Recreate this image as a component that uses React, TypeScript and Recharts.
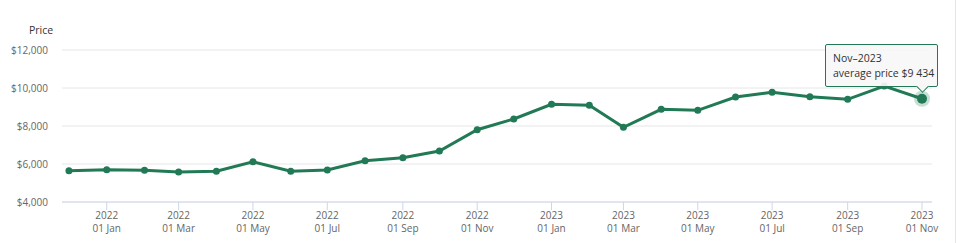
import React from 'react'
import { LineChart, Line, XAxis, YAxis, CartesianGrid, Tooltip } from 'recharts'

// monthly average price, Dec 2021 .. Nov 2023
const months = [
  '2021-12', '2022-01', '2022-02', '2022-03', '2022-04', '2022-05',
  '2022-06', '2022-07', '2022-08', '2022-09', '2022-10', '2022-11',
  '2022-12', '2023-01', '2023-02', '2023-03', '2023-04', '2023-05',
  '2023-06', '2023-07', '2023-08', '2023-09', '2023-10', '2023-11',
]
const prices = [
  5650, 5700, 5670, 5580, 5615, 6120,
  5615, 5685, 6175, 6330, 6685, 7805,
  8370, 9140, 9090, 7930, 8880, 8825,
  9525, 9775, 9540, 9405, 10105, 9434,
]
const xTicks = [
  '2022-01', '2022-03', '2022-05', '2022-07', '2022-09', '2022-11',
  '2023-01', '2023-03', '2023-05', '2023-07', '2023-09', '2023-11',
]
const yTicks = [4000, 6000, 8000, 10000, 12000]
const monthNames = ['Jan', 'Feb', 'Mar', 'Apr', 'May', 'Jun', 'Jul', 'Aug', 'Sep', 'Oct', 'Nov', 'Dec']

const toTime = (m: string) => {
  const [y, mo] = m.split('-').map(Number)
  return Date.UTC(y, mo - 1, 1)
}
const DAY = 86400000

const data = months.map((m, i) => ({ t: toTime(m), price: prices[i], label: m }))
const domain = [toTime(months[0]) - 5.7 * DAY, toTime(months[months.length - 1]) + 8.2 * DAY]

const GREEN = '#217a55'
const FONT = '"Open Sans", "DejaVu Sans", sans-serif'

const XTick = (props: any) => {
  const { x, y, payload } = props
  const d = new Date(payload.value)
  return (
    <g transform={`translate(${x},${y})`}>
      <text x={0} y={7} textAnchor="middle" fill="#666" fontSize={10} fontFamily={FONT}>
        {d.getUTCFullYear()}
      </text>
      <text x={0} y={19.5} textAnchor="middle" fill="#666" fontSize={10} fontFamily={FONT}>
        01 {monthNames[d.getUTCMonth()]}
      </text>
    </g>
  )
}

const fmtPrice = (v: number) => '$' + v.toLocaleString('en-US')

const TipBox = (props: any) => {
  const { active, payload } = props
  if (!active || !payload || !payload.length) return null
  const p = payload[0].payload
  const d = new Date(p.t)
  const val = String(p.price).replace(/\B(?=(\d{3})+(?!\d))/g, ' ')
  return (
    <div
      style={{
        position: 'relative',
        width: 113,
        height: 43,
        boxSizing: 'border-box',
        background: 'rgba(247,247,247,0.92)',
        border: `1px solid ${GREEN}`,
        borderRadius: 2,
        padding: '6px 7px',
        fontFamily: FONT,
        fontSize: 10.5,
        color: '#333',
        lineHeight: '15px',
        whiteSpace: 'nowrap',
      }}
    >
      <div>{monthNames[d.getUTCMonth()]}–{d.getUTCFullYear()}</div>
      <div>average price ${val}</div>
      <div
        style={{
          position: 'absolute',
          left: 92,
          bottom: -5,
          width: 8,
          height: 8,
          background: 'rgba(247,247,247,1)',
          borderRight: `1px solid ${GREEN}`,
          borderBottom: `1px solid ${GREEN}`,
          transform: 'rotate(45deg)',
        }}
      />
    </div>
  )
}

const ActiveDot = (props: any) => {
  const { cx, cy } = props
  return (
    <g>
      <circle cx={cx} cy={cy} r={8} fill={GREEN} opacity={0.25} />
      <circle cx={cx} cy={cy} r={5} fill={GREEN} />
    </g>
  )
}

export default function App() {
  return (
    <div style={{ position: 'relative', width: 960, height: 243, background: '#fff' }}>
      <style>{`body{margin:0}`}</style>
      <div
        style={{
          position: 'absolute',
          left: 29,
          top: 23,
          fontFamily: FONT,
          fontSize: 10.5,
          color: '#333',
        }}
      >
        Price
      </div>
      <div style={{ position: 'absolute', left: 955, top: 0, width: 1, height: 243, background: '#e6e6e6' }} />
      <LineChart width={960} height={243} data={data} margin={{ top: 50, right: 28, bottom: 0, left: 0 }}>
        <CartesianGrid vertical={false} stroke="#e6e6e6" />
        <XAxis
          dataKey="t"
          type="number"
          scale="time"
          domain={domain}
          ticks={xTicks.map(toTime)}
          tick={<XTick />}
          tickSize={8}
          tickLine={{ stroke: '#ccd6eb' }}
          axisLine={{ stroke: '#ccd6eb' }}
          interval={0}
          height={41}
        />
        <YAxis
          domain={[4000, 12000]}
          ticks={yTicks}
          tickFormatter={fmtPrice}
          axisLine={false}
          tickLine={false}
          tickSize={0}
          tickMargin={14}
          width={62}
          tick={{ fill: '#666', fontSize: 10, fontFamily: FONT }}
        />
        <Tooltip
          defaultIndex={23}
          content={<TipBox />}
          cursor={false}
          position={{ x: 825, y: 44 }}
          isAnimationActive={false}
          wrapperStyle={{ outline: 'none' }}
        />
        <Line
          type="linear"
          dataKey="price"
          stroke={GREEN}
          strokeWidth={3}
          dot={{ r: 3.5, fill: GREEN, stroke: GREEN, strokeWidth: 0 }}
          activeDot={<ActiveDot />}
          isAnimationActive={false}
        />
      </LineChart>
    </div>
  )
}
